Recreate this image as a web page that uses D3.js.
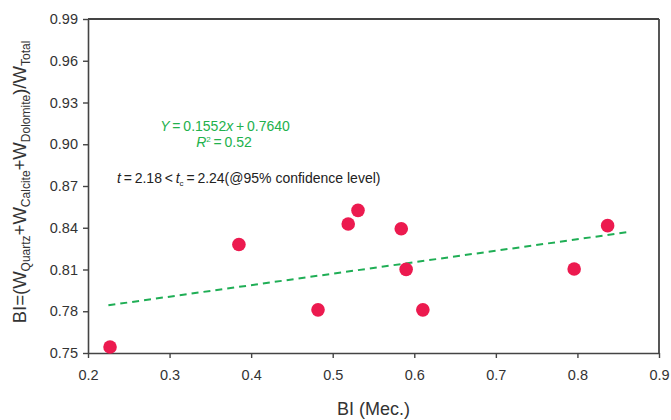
<!DOCTYPE html>
<html>
<head>
<meta charset="utf-8">
<script src="https://cdn.jsdelivr.net/npm/d3@7"></script>
<style>
  html, body { margin: 0; padding: 0; background: #fff; }
  svg { display: block; font-family: Arial, "Liberation Sans", sans-serif; }
</style>
</head>
<body>
<svg id="chart" width="671" height="420"></svg>
<script>
// Sample measurements: BI from mechanical tests vs. mineral-based BI
const biMec = [0.227, 0.385, 0.482, 0.519, 0.531, 0.584, 0.590, 0.6105, 0.796, 0.837];
const biMin = [0.7543, 0.828, 0.781, 0.8427, 0.8525, 0.8393, 0.8101, 0.781, 0.8104, 0.8415];

// Fitted trend line endpoints
const trendX = [0.225, 0.86];
const trendY = [0.7843, 0.8367];

const xTicks = [0.2, 0.3, 0.4, 0.5, 0.6, 0.7, 0.8, 0.9];
const yTicks = [0.75, 0.78, 0.81, 0.84, 0.87, 0.90, 0.93, 0.96, 0.99];

const svg = d3.select("#chart");
const plotL = 88, plotR = 659, plotT = 19, plotB = 353;

const x = d3.scaleLinear().domain([0.2, 0.9]).range([plotL, plotR]);
const y = d3.scaleLinear().domain([0.75, 0.99]).range([plotB, plotT]);

const axisColor = "#444";

// Frame (top and right edges)
svg.append("line").attr("x1", plotL).attr("x2", plotR).attr("y1", plotT).attr("y2", plotT)
  .attr("stroke", axisColor).attr("stroke-width", 1.8);
svg.append("line").attr("x1", plotR).attr("x2", plotR).attr("y1", plotT).attr("y2", plotB)
  .attr("stroke", axisColor).attr("stroke-width", 1.8);

// Bottom axis
const gx = svg.append("g").attr("transform", `translate(0,${plotB})`)
  .call(d3.axisBottom(x).tickValues(xTicks).tickFormat(d3.format(".1f")).tickSizeInner(5).tickSizeOuter(0).tickPadding(12));
// Left axis
const gy = svg.append("g").attr("transform", `translate(${plotL},0)`)
  .call(d3.axisLeft(y).tickValues(yTicks).tickFormat(d3.format(".2f")).tickSizeInner(5).tickSizeOuter(0).tickPadding(5));

[gx, gy].forEach(g => {
  g.select(".domain").attr("stroke", axisColor).attr("stroke-width", 1.6);
  g.selectAll(".tick line").attr("stroke", axisColor).attr("stroke-width", 1.4);
  g.selectAll(".tick text").attr("fill", "#333").style("font-size", "14.5px")
    .style("font-family", "Arial, 'Liberation Sans', sans-serif");
});

// Trend line
svg.append("line")
  .attr("x1", x(trendX[0])).attr("y1", y(trendY[0]))
  .attr("x2", x(trendX[1])).attr("y2", y(trendY[1]))
  .attr("stroke", "#1fae55").attr("stroke-width", 2)
  .attr("stroke-dasharray", "7,5");

// Data points
svg.append("g").selectAll("circle")
  .data(biMec.map((v, i) => [v, biMin[i]]))
  .join("circle")
  .attr("cx", d => x(d[0])).attr("cy", d => y(d[1]))
  .attr("r", 6.8).attr("fill", "#ec1a4f");

// Regression annotation
const green = "#22b14c";
const eq = svg.append("text").attr("x", 225).attr("y", 131).attr("text-anchor", "middle")
  .attr("fill", green).style("font-size", "14px");
eq.append("tspan").style("font-style", "italic").text("Y");
eq.append("tspan").text("\u2009=\u20090.1552");
eq.append("tspan").style("font-style", "italic").text("x");
eq.append("tspan").text("\u2009+\u20090.7640");

const r2 = svg.append("text").attr("x", 224).attr("y", 147).attr("text-anchor", "middle")
  .attr("fill", green).style("font-size", "14px");
r2.append("tspan").style("font-style", "italic").text("R");
r2.append("tspan").attr("dy", -5).style("font-size", "8px").text("2");
r2.append("tspan").attr("dy", 5).text("\u2009=\u20090.52");

const tt = svg.append("text").attr("x", 117).attr("y", 183)
  .attr("fill", "#222").style("font-size", "14px");
tt.append("tspan").style("font-style", "italic").text("t");
tt.append("tspan").text("\u2009=\u20092.18\u2009<\u2009");
tt.append("tspan").style("font-style", "italic").text("t");
tt.append("tspan").attr("dy", 3).style("font-size", "8px").text("c");
tt.append("tspan").attr("dy", -3).text("\u2009=\u20092.24(@95% confidence level)");

// Axis titles
svg.append("text").attr("x", (plotL + plotR) / 2).attr("y", 415).attr("text-anchor", "middle")
  .attr("fill", "#333").style("font-size", "18px").text("BI (Mec.)");

const yt = svg.append("text")
  .attr("transform", `translate(26,${(plotT + plotB) / 2 - 4}) rotate(-90)`)
  .attr("text-anchor", "middle").attr("fill", "#333").style("font-size", "18.5px");
yt.append("tspan").text("BI=(W");
yt.append("tspan").attr("dy", 4).style("font-size", "12px").text("Quartz");
yt.append("tspan").attr("dy", -4).text("+W");
yt.append("tspan").attr("dy", 4).style("font-size", "12px").text("Calcite");
yt.append("tspan").attr("dy", -4).text("+W");
yt.append("tspan").attr("dy", 4).style("font-size", "12px").text("Dolomite");
yt.append("tspan").attr("dy", -4).text(")/W");
yt.append("tspan").attr("dy", 4).style("font-size", "12px").text("Total");
</script>
</body>
</html>
